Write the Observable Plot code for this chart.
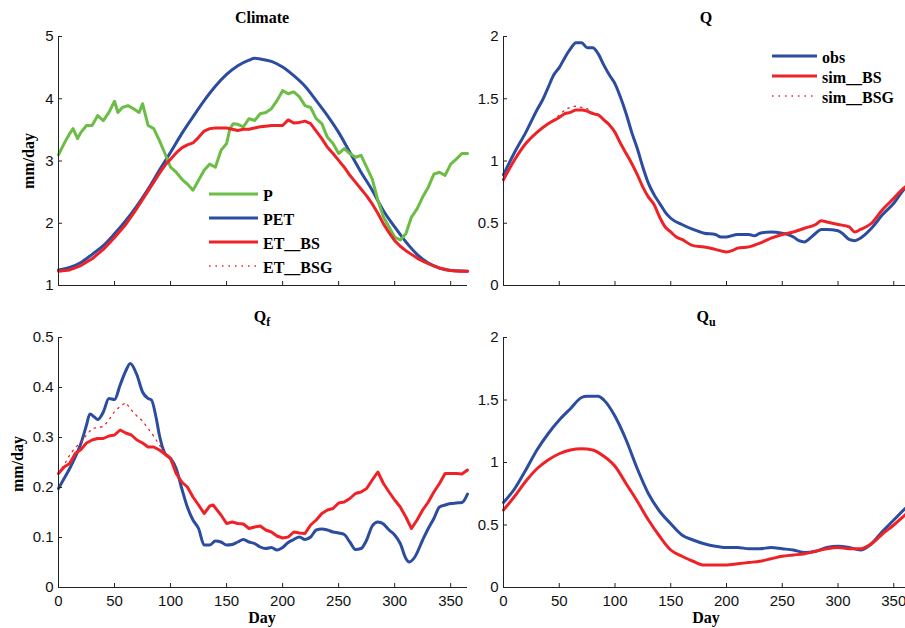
<!DOCTYPE html>
<html><head><meta charset="utf-8">
<script src="https://cdn.jsdelivr.net/npm/d3@7"></script>
<script src="https://cdn.jsdelivr.net/npm/@observablehq/plot@0.6"></script>
<style>
html,body{margin:0;padding:0;background:#fff;overflow:hidden;}
#wrap{position:relative;width:905px;height:628px;overflow:hidden;background:#fff;}
#wrap svg.pl{position:absolute;overflow:visible;}
.ttl{position:absolute;font:bold 16px "Liberation Serif",serif;line-height:16px;color:#000;transform:translateX(-50%);white-space:nowrap;}
.ttl sub{font-size:12px;vertical-align:-4px;line-height:0;}
.ylab{position:absolute;font:bold 16px "Liberation Serif",serif;line-height:16px;color:#000;transform:translate(-50%,-50%) rotate(-90deg);white-space:nowrap;}
.legt{position:absolute;font:bold 16px "Liberation Serif",serif;line-height:16px;color:#000;white-space:nowrap;}
.legs{position:absolute;}
</style>
</head><body>
<div id="wrap"></div>
<script>
// ---------- data (day, value) ----------
const xTicks = [0, 50, 100, 150, 200, 250, 300, 350];
const yTicksClimate = [1, 2, 3, 4, 5];
const yTicksQ = [0, 0.5, 1, 1.5, 2];
const yTicksQf = [0, 0.1, 0.2, 0.3, 0.4, 0.5];

const P = [[0,3.10],[5,3.28],[10,3.44],[13,3.52],[17,3.36],[20,3.46],[25,3.57],[30,3.57],[35,3.73],[40,3.65],[45,3.78],[50,3.96],[53,3.78],[57,3.86],[62,3.89],[67,3.84],[72,3.78],[75,3.92],[80,3.57],[85,3.52],[90,3.33],[95,3.12],[100,2.90],[105,2.82],[110,2.71],[115,2.63],[120,2.53],[125,2.69],[130,2.85],[135,2.95],[140,2.90],[145,3.17],[150,3.28],[153,3.52],[156,3.60],[160,3.59],[165,3.55],[170,3.68],[175,3.65],[180,3.76],[185,3.78],[190,3.84],[195,3.97],[200,4.13],[205,4.08],[210,4.11],[215,4.03],[220,3.89],[225,3.86],[230,3.68],[235,3.60],[240,3.38],[245,3.28],[250,3.12],[255,3.20],[260,3.12],[265,3.06],[270,3.09],[275,2.90],[280,2.71],[285,2.37],[290,2.10],[295,1.94],[300,1.78],[305,1.73],[310,1.83],[315,2.10],[320,2.23],[325,2.42],[330,2.58],[335,2.79],[340,2.82],[345,2.77],[350,2.95],[355,3.03],[360,3.12],[365,3.12]];
const PET = [[0,1.25],[10,1.29],[20,1.37],[30,1.50],[40,1.64],[50,1.83],[60,2.04],[70,2.28],[80,2.55],[90,2.85],[100,3.14],[110,3.44],[120,3.71],[130,3.97],[140,4.20],[150,4.39],[160,4.53],[170,4.62],[175,4.65],[180,4.64],[190,4.60],[200,4.51],[210,4.37],[220,4.20],[230,3.97],[240,3.73],[250,3.46],[260,3.14],[270,2.82],[280,2.53],[290,2.20],[300,1.94],[310,1.70],[320,1.50],[330,1.36],[340,1.28],[350,1.24],[365,1.23]];
const ET_BS = [[0,1.23],[10,1.25],[20,1.32],[30,1.43],[40,1.58],[50,1.77],[60,1.98],[70,2.24],[80,2.52],[90,2.80],[95,2.93],[100,3.03],[105,3.13],[110,3.21],[115,3.26],[120,3.29],[125,3.38],[130,3.48],[135,3.52],[140,3.53],[145,3.53],[150,3.53],[155,3.51],[160,3.49],[165,3.51],[170,3.51],[175,3.53],[180,3.55],[185,3.56],[190,3.57],[195,3.57],[200,3.57],[205,3.66],[210,3.61],[215,3.62],[220,3.64],[225,3.60],[230,3.48],[235,3.36],[240,3.22],[245,3.12],[250,3.01],[255,2.90],[260,2.77],[265,2.66],[270,2.55],[275,2.44],[280,2.31],[285,2.16],[290,1.99],[295,1.85],[300,1.72],[305,1.63],[310,1.56],[315,1.50],[320,1.44],[325,1.39],[330,1.35],[340,1.28],[350,1.24],[358,1.23],[365,1.23]];
const ET_BSG = [[0,1.23],[10,1.25],[20,1.32],[30,1.43],[40,1.58],[50,1.77],[60,1.98],[70,2.24],[80,2.52],[90,2.80],[95,2.93],[100,3.03],[105,3.13],[110,3.21],[115,3.26],[120,3.29],[125,3.38],[130,3.48],[135,3.52],[140,3.53],[145,3.53],[150,3.53],[155,3.51],[160,3.49],[165,3.51],[170,3.51],[175,3.53],[180,3.55],[185,3.56],[190,3.57],[195,3.57],[200,3.57],[205,3.66],[210,3.61],[215,3.62],[220,3.64],[225,3.60],[230,3.48],[235,3.36],[240,3.22],[245,3.12],[250,3.01],[255,2.90],[260,2.77],[265,2.66],[270,2.55],[275,2.44],[280,2.31],[285,2.16],[290,1.99],[295,1.85],[300,1.72],[305,1.63],[310,1.56],[315,1.50],[320,1.44],[325,1.39],[330,1.35],[340,1.28],[350,1.24],[358,1.23],[365,1.23]];

const Q_obs = [[0,0.89],[10,1.07],[20,1.23],[30,1.41],[35,1.49],[40,1.59],[45,1.69],[50,1.75],[55,1.83],[60,1.90],[65,1.95],[70,1.95],[75,1.91],[80,1.91],[85,1.86],[90,1.77],[95,1.69],[100,1.62],[105,1.51],[110,1.38],[115,1.23],[120,1.10],[125,0.95],[130,0.82],[135,0.73],[140,0.66],[145,0.59],[150,0.54],[160,0.49],[170,0.45],[180,0.42],[190,0.41],[195,0.39],[200,0.39],[210,0.41],[220,0.41],[225,0.40],[230,0.42],[240,0.43],[250,0.42],[255,0.41],[260,0.39],[265,0.36],[270,0.35],[275,0.38],[280,0.42],[285,0.45],[290,0.45],[300,0.44],[305,0.41],[310,0.37],[315,0.36],[320,0.38],[330,0.46],[340,0.57],[350,0.66],[360,0.78],[365,0.81]];
const Q_BS = [[0,0.85],[10,1.01],[20,1.14],[30,1.23],[40,1.30],[50,1.35],[55,1.38],[60,1.39],[65,1.41],[70,1.41],[75,1.40],[80,1.38],[85,1.37],[90,1.33],[95,1.29],[100,1.23],[105,1.14],[110,1.06],[115,0.98],[120,0.89],[125,0.79],[130,0.71],[135,0.65],[140,0.55],[145,0.47],[150,0.43],[155,0.39],[160,0.37],[170,0.32],[180,0.31],[190,0.29],[200,0.27],[205,0.28],[210,0.30],[220,0.31],[230,0.34],[240,0.38],[250,0.41],[260,0.43],[270,0.46],[280,0.49],[285,0.52],[290,0.51],[300,0.49],[310,0.47],[315,0.43],[320,0.45],[330,0.50],[340,0.61],[350,0.70],[360,0.79],[365,0.81]];
const Q_BSG = [[0,0.85],[10,1.01],[20,1.14],[30,1.23],[40,1.30],[45,1.33],[50,1.37],[55,1.41],[60,1.43],[65,1.44],[70,1.43],[75,1.42],[80,1.39],[85,1.37],[90,1.33],[95,1.29],[100,1.23],[105,1.14],[110,1.06],[115,0.98],[120,0.89],[125,0.79],[130,0.71],[135,0.65],[140,0.55],[145,0.47],[150,0.43],[155,0.39],[160,0.37],[170,0.32],[180,0.31],[190,0.29],[200,0.27],[205,0.28],[210,0.30],[220,0.31],[230,0.34],[240,0.38],[250,0.41],[260,0.43],[270,0.46],[280,0.49],[285,0.52],[290,0.51],[300,0.49],[310,0.47],[315,0.43],[320,0.45],[330,0.50],[340,0.61],[350,0.70],[360,0.79],[365,0.81]];

const Qf_obs = [[0,0.198],[5,0.218],[10,0.238],[15,0.261],[20,0.288],[25,0.325],[28,0.347],[32,0.341],[35,0.336],[40,0.351],[45,0.378],[50,0.376],[55,0.405],[60,0.433],[64,0.448],[70,0.425],[75,0.391],[80,0.378],[83,0.375],[87,0.341],[90,0.305],[95,0.268],[100,0.258],[105,0.238],[110,0.198],[115,0.161],[120,0.135],[125,0.118],[130,0.085],[135,0.085],[140,0.093],[145,0.091],[150,0.085],[155,0.086],[160,0.091],[165,0.096],[170,0.091],[175,0.088],[180,0.081],[185,0.078],[190,0.080],[195,0.075],[200,0.080],[205,0.090],[210,0.096],[215,0.101],[220,0.096],[225,0.101],[230,0.115],[235,0.117],[240,0.115],[245,0.111],[250,0.109],[255,0.106],[260,0.091],[265,0.076],[270,0.078],[275,0.095],[280,0.123],[285,0.131],[290,0.127],[295,0.115],[300,0.105],[305,0.088],[310,0.058],[313,0.051],[318,0.061],[325,0.095],[330,0.118],[335,0.138],[340,0.161],[345,0.165],[350,0.168],[355,0.169],[360,0.170],[365,0.187]];
const Qf_BS = [[0,0.228],[5,0.241],[10,0.248],[15,0.268],[20,0.276],[25,0.289],[30,0.295],[35,0.298],[40,0.298],[45,0.303],[50,0.305],[55,0.315],[60,0.309],[65,0.305],[70,0.295],[75,0.289],[80,0.281],[85,0.281],[90,0.275],[95,0.267],[100,0.258],[105,0.228],[110,0.211],[115,0.201],[120,0.181],[125,0.165],[130,0.148],[135,0.163],[138,0.165],[145,0.145],[150,0.128],[155,0.131],[160,0.128],[165,0.127],[170,0.118],[175,0.121],[180,0.123],[185,0.115],[190,0.111],[195,0.103],[200,0.099],[205,0.101],[210,0.111],[215,0.109],[220,0.108],[225,0.125],[230,0.135],[235,0.148],[240,0.155],[245,0.158],[250,0.169],[255,0.171],[260,0.178],[265,0.188],[270,0.191],[275,0.198],[280,0.215],[285,0.231],[290,0.208],[295,0.191],[300,0.175],[305,0.161],[310,0.141],[315,0.118],[320,0.135],[325,0.155],[330,0.171],[335,0.191],[340,0.208],[345,0.228],[350,0.228],[355,0.228],[360,0.227],[365,0.235]];
const Qf_BSG = [[0,0.228],[5,0.245],[10,0.265],[15,0.280],[20,0.290],[25,0.305],[30,0.318],[35,0.320],[40,0.322],[45,0.335],[50,0.352],[55,0.362],[60,0.370],[65,0.355],[70,0.343],[75,0.333],[80,0.318],[85,0.303],[90,0.285],[95,0.270],[100,0.260],[105,0.228],[110,0.211],[115,0.201],[120,0.181],[125,0.165],[130,0.148],[135,0.163],[138,0.165],[145,0.145],[150,0.128],[155,0.131],[160,0.128],[165,0.127],[170,0.118],[175,0.121],[180,0.123],[185,0.115],[190,0.111],[195,0.103],[200,0.099],[205,0.101],[210,0.111],[215,0.109],[220,0.108],[225,0.125],[230,0.135],[235,0.148],[240,0.155],[245,0.158],[250,0.169],[255,0.171],[260,0.178],[265,0.188],[270,0.191],[275,0.198],[280,0.215],[285,0.231],[290,0.208],[295,0.191],[300,0.175],[305,0.161],[310,0.141],[315,0.118],[320,0.135],[325,0.155],[330,0.171],[335,0.191],[340,0.208],[345,0.228],[350,0.228],[355,0.228],[360,0.227],[365,0.235]];

const Qu_obs = [[0,0.68],[10,0.79],[20,0.94],[30,1.10],[40,1.23],[50,1.34],[60,1.43],[70,1.52],[75,1.53],[80,1.53],[85,1.53],[90,1.50],[100,1.37],[110,1.18],[120,0.95],[130,0.75],[140,0.61],[150,0.51],[160,0.42],[170,0.38],[180,0.35],[190,0.33],[200,0.32],[210,0.32],[220,0.31],[230,0.31],[240,0.32],[250,0.31],[260,0.30],[270,0.28],[280,0.29],[290,0.32],[300,0.33],[310,0.32],[320,0.30],[330,0.35],[340,0.45],[350,0.54],[360,0.63],[365,0.67]];
const Qu_BS = [[0,0.62],[10,0.73],[20,0.85],[30,0.95],[40,1.02],[50,1.07],[60,1.10],[70,1.11],[80,1.10],[90,1.05],[100,0.97],[110,0.83],[120,0.69],[130,0.54],[140,0.41],[150,0.30],[160,0.25],[170,0.21],[180,0.18],[190,0.18],[200,0.18],[210,0.19],[220,0.20],[230,0.21],[240,0.23],[250,0.25],[260,0.26],[270,0.27],[280,0.29],[290,0.31],[300,0.32],[310,0.31],[320,0.31],[330,0.35],[340,0.43],[350,0.50],[360,0.58],[365,0.62]];
const Qu_BSG = [[0,0.62],[10,0.73],[20,0.85],[30,0.95],[40,1.02],[50,1.07],[60,1.10],[70,1.11],[80,1.10],[90,1.05],[100,0.97],[110,0.83],[120,0.69],[130,0.54],[140,0.41],[150,0.30],[160,0.25],[170,0.21],[180,0.18],[190,0.18],[200,0.18],[210,0.19],[220,0.20],[230,0.21],[240,0.23],[250,0.25],[260,0.26],[270,0.27],[280,0.29],[290,0.31],[300,0.32],[310,0.31],[320,0.31],[330,0.35],[340,0.43],[350,0.50],[360,0.58],[365,0.62]];

// ---------- styles ----------
const GREEN = "#6cbd45", BLUE = "#2c4c9f", RED = "#ee2227", AXIS = "#222";
const DOT = "1.5,5";

const wrap = document.getElementById("wrap");

function panel({left, top, w, h, ml, mr, mt, mb, yDomain, yTicks, xLabels, lines}) {
  const pw = w - ml - mr, ph = h - mt - mb;
  const marks = [];
  for (const s of lines) {
    marks.push(Plot.line(s.data, {
      x: d => d[0], y: d => d[1], stroke: s.color,
      strokeWidth: s.dash ? 1.3 : 3, strokeDasharray: s.dash || null,
      curve: s.curve || "linear"
    }));
  }
  marks.push(Plot.ruleX([0], {stroke: AXIS}));
  marks.push(Plot.ruleY([yDomain[0]], {stroke: AXIS}));
  marks.push(Plot.tickX(xTicks, {x: d => d, insetTop: ph - 4, stroke: AXIS}));
  marks.push(Plot.tickY(yTicks, {y: d => d, insetRight: pw - 4, stroke: AXIS}));
  marks.push(Plot.axisY({ticks: yTicks, tickSize: 0, tickPadding: 5, tickFormat: d => String(d), label: null}));
  if (xLabels) marks.push(Plot.axisX({ticks: xTicks, tickSize: 0, tickPadding: 8, tickFormat: d => String(d), label: null}));
  const svg = Plot.plot({
    width: w, height: h,
    marginLeft: ml, marginRight: mr, marginTop: mt, marginBottom: mb,
    x: {domain: [0, 365], axis: xLabels ? undefined : null},
    y: {domain: yDomain},
    style: {fontFamily: '"Liberation Sans", Arial, sans-serif', fontSize: "15px", color: "#111", background: "transparent", overflow: "visible"},
    marks
  });
  svg.classList.add("pl");
  svg.style.left = left + "px";
  svg.style.top = top + "px";
  wrap.appendChild(svg);
}

// top-left: Climate
panel({left: 0, top: 0, w: 480, h: 310, ml: 58, mr: 13, mt: 36, mb: 25,
  yDomain: [1, 5], yTicks: yTicksClimate, xLabels: false,
  lines: [
    {data: PET, color: BLUE, curve: "monotone-x"},
    {data: P, color: GREEN},
    {data: ET_BS, color: RED},
    {data: ET_BSG, color: RED, dash: DOT}
  ]});
// top-right: Q
panel({left: 450, top: 0, w: 480, h: 310, ml: 53, mr: 20, mt: 36, mb: 25,
  yDomain: [0, 2], yTicks: yTicksQ, xLabels: false,
  lines: [
    {data: Q_obs, color: BLUE, curve: "monotone-x"},
    {data: Q_BS, color: RED, curve: "monotone-x"},
    {data: Q_BSG, color: RED, dash: DOT, curve: "monotone-x"}
  ]});
// bottom-left: Qf
panel({left: 0, top: 310, w: 480, h: 318, ml: 58, mr: 13, mt: 27, mb: 41,
  yDomain: [0, 0.5], yTicks: yTicksQf, xLabels: true,
  lines: [
    {data: Qf_obs, color: BLUE, curve: "monotone-x"},
    {data: Qf_BS, color: RED},
    {data: Qf_BSG, color: RED, dash: DOT}
  ]});
// bottom-right: Qu
panel({left: 450, top: 310, w: 480, h: 318, ml: 53, mr: 20, mt: 27, mb: 41,
  yDomain: [0, 2], yTicks: yTicksQ, xLabels: true,
  lines: [
    {data: Qu_obs, color: BLUE, curve: "monotone-x"},
    {data: Qu_BS, color: RED, curve: "monotone-x"},
    {data: Qu_BSG, color: RED, dash: DOT, curve: "monotone-x"}
  ]});

// ---------- text ----------
function addDiv(cls, html, x, y) {
  const d = document.createElement("div");
  d.className = cls; d.innerHTML = html;
  d.style.left = x + "px"; d.style.top = y + "px";
  wrap.appendChild(d);
  return d;
}
addDiv("ttl", "Climate", 262, 10);
addDiv("ttl", "Q", 706, 10);
addDiv("ttl", "Q<sub>f</sub>", 262, 309);
addDiv("ttl", "Q<sub>u</sub>", 706, 309);
addDiv("ylab", "mm/day", 29, 161);
addDiv("ylab", "mm/day", 18, 464);
addDiv("ttl", "Day", 262, 610);
addDiv("ttl", "Day", 706, 610);

// ---------- legends ----------
const legClimate = [["P", GREEN, null], ["PET", BLUE, null], ["ET__BS", RED, null], ["ET__BSG", RED, DOT]];
const legQ = [["obs", BLUE, null], ["sim__BS", RED, null], ["sim__BSG", RED, DOT]];
function legend(items, x0, x1, y0, step) {
  items.forEach(([name, color, dash], i) => {
    const yc = y0 + i * step;
    const ns = "http://www.w3.org/2000/svg";
    const s = document.createElementNS(ns, "svg");
    s.setAttribute("class", "legs");
    s.setAttribute("width", x1 - x0); s.setAttribute("height", 6);
    s.style.left = x0 + "px"; s.style.top = (yc - 3) + "px";
    const l = document.createElementNS(ns, "line");
    l.setAttribute("x1", 0); l.setAttribute("x2", x1 - x0);
    l.setAttribute("y1", 3); l.setAttribute("y2", 3);
    l.setAttribute("stroke", color);
    l.setAttribute("stroke-width", dash ? 1.3 : 3);
    if (dash) l.setAttribute("stroke-dasharray", dash);
    s.appendChild(l);
    wrap.appendChild(s);
    addDiv("legt", name, x1 + 5, yc - 6);
  });
}
legend(legClimate, 209, 258, 194, 24);
legend(legQ, 772, 817, 56, 20);
</script>
</body></html>
